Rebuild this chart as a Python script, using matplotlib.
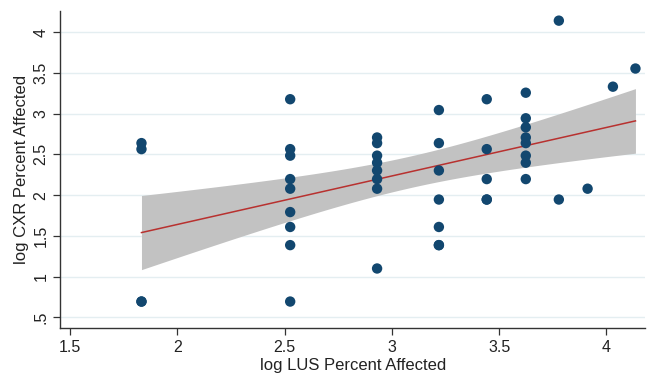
import numpy as np
import matplotlib
matplotlib.use("Agg")
import matplotlib.pyplot as plt

plt.rcParams['font.family'] = ['Liberation Sans', 'DejaVu Sans']

# log LUS percent affected (x) and log CXR percent affected (y)
# (a few markers overlap exactly with another observation)
lus = [1.833, 1.833, 1.833, 1.833,
       2.526, 2.526, 2.526, 2.526, 2.526, 2.526, 2.526, 2.526, 2.526,
       2.931, 2.931, 2.931, 2.931, 2.931, 2.931, 2.931, 2.931,
       3.219, 3.219, 3.219, 3.219, 3.219, 3.219, 3.219,
       3.442, 3.442, 3.442, 3.442, 3.442,
       3.624, 3.624, 3.624, 3.624, 3.624, 3.624, 3.624, 3.624,
       3.778, 3.778,
       3.912,
       4.030,
       4.135]
cxr = [2.639, 2.565, 0.693, 0.693,
       3.178, 2.565, 2.485, 2.197, 2.079, 1.792, 1.609, 1.386, 0.693,
       2.708, 2.639, 2.485, 2.398, 2.303, 2.197, 2.079, 1.099,
       3.045, 2.639, 2.303, 1.946, 1.609, 1.386, 1.386,
       3.178, 2.565, 2.197, 1.946, 1.946,
       3.258, 2.944, 2.833, 2.708, 2.639, 2.485, 2.398, 2.197,
       4.143, 1.946,
       2.079,
       3.332,
       3.555]

xticks = [1.5, 2, 2.5, 3, 3.5, 4]
xticklabels = ["1.5", "2", "2.5", "3", "3.5", "4"]
yticks = [0.5, 1, 1.5, 2, 2.5, 3, 3.5, 4]
yticklabels = [".5", "1", "1.5", "2", "2.5", "3", "3.5", "4"]

x = np.array(lus)
y = np.array(cxr)
n = len(x)
b1, b0 = np.polyfit(x, y, 1)
resid = y - (b0 + b1 * x)
s = np.sqrt(np.sum(resid ** 2) / (n - 2))
xbar = x.mean()
sxx = np.sum((x - xbar) ** 2)
tcrit = 2.015
xs = np.linspace(x.min(), x.max(), 100)
yhat = b0 + b1 * xs
se = s * np.sqrt(1.0 / n + (xs - xbar) ** 2 / sxx)

fig = plt.figure(figsize=(6.49, 3.76), dpi=100)
ax = fig.add_axes([0.093, 0.1285, 0.901, 0.843])

ax.fill_between(xs, yhat - tcrit * se, yhat + tcrit * se, color='#c2c2c2', lw=0, zorder=2)
ax.plot(xs, yhat, color='#b8312f', lw=1.1, zorder=3)
ax.scatter(x, y, s=56, color='#12476f', edgecolors='none', zorder=4)

ax.set_xlim(1.455, 4.18)
ax.set_ylim(0.372, 4.265)
ax.set_xticks(xticks)
ax.set_xticklabels(xticklabels)
ax.set_yticks(yticks)
ax.set_yticklabels(yticklabels, rotation=90, va='center')
ax.yaxis.grid(True, color='#e4eef1', lw=1.0, zorder=0)
ax.set_axisbelow(True)
for sp in ['top', 'right']:
    ax.spines[sp].set_visible(False)
for sp in ['left', 'bottom']:
    ax.spines[sp].set_color('#333333')
    ax.spines[sp].set_linewidth(1.0)
ax.tick_params(axis='both', direction='out', length=5, width=0.9, color='#333333',
               labelsize=11.5, labelcolor='#222222')
ax.tick_params(axis='x', pad=4)
ax.set_xlabel('log LUS Percent Affected', fontsize=12, color='#222222', labelpad=2)
ax.set_ylabel('log CXR Percent Affected', fontsize=12, color='#222222', labelpad=3)

fig.savefig('out.png', dpi=100, facecolor='white')
